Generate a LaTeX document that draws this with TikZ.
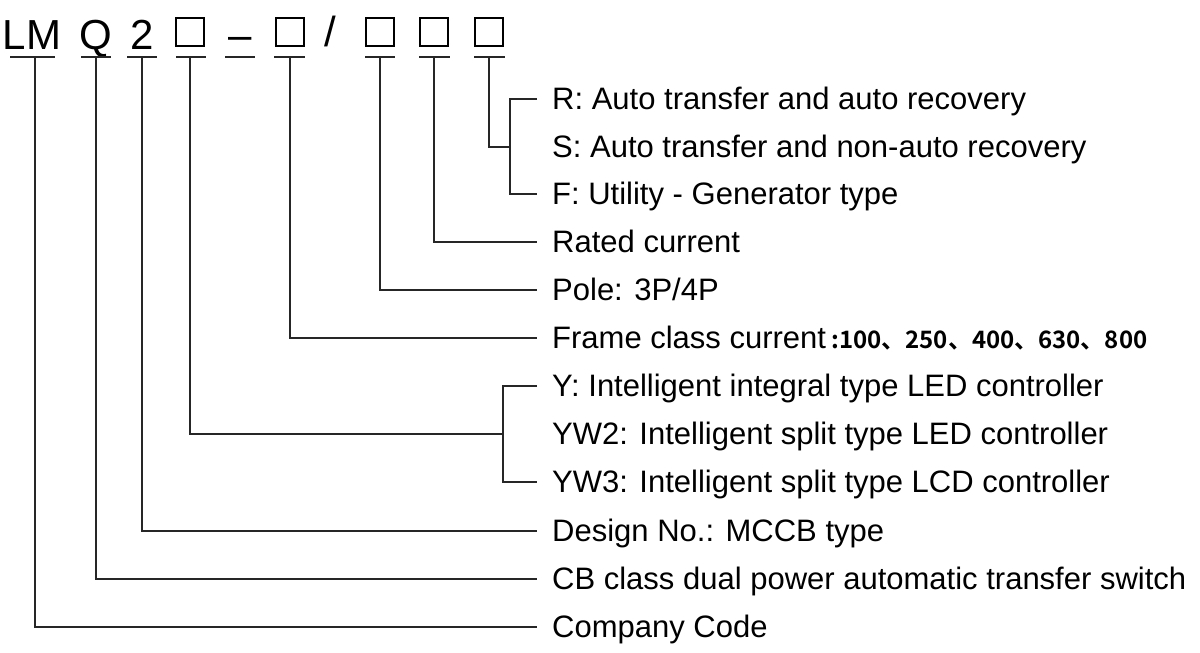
\documentclass[tikz,border=0pt]{standalone}
\usepackage{fontspec}
\setmainfont{Liberation Sans}
\newfontfamily\cjk{Noto Sans CJK SC}[BoldFont=* Bold]
\begin{document}
\begin{tikzpicture}[x=1pt,y=-1pt,
  ln/.style={line width=1.4pt,black!85},
  lbl/.style={anchor=base west,inner sep=0pt,font=\fontsize{31}{33}\selectfont},
  hd/.style={anchor=base,inner sep=0pt,font=\fontsize{42}{44}\selectfont},
  bx/.style={draw,line width=1.2pt,minimum width=28pt,minimum height=28pt,inner sep=0pt}]
\useasboundingbox (0,0) rectangle (1200,653);
% header
\node[hd] (hLM) at (32,49) {LM};
\node[hd] (hQ) at (96,49) {Q};
\node[hd] (h2) at (142,49) {2};
\node[bx] (b1) at (190,32) {};
\node[hd] (hd) at (240,49) {–};
\node[bx] (b2) at (290,32) {};
\node[hd] (hs) at (330,46) {/};
\node[bx] (b3) at (380,32) {};
\node[bx] (b4) at (434,32) {};
\node[bx] (b5) at (489,32) {};
% underlines
\foreach \a/\b in {10/55,81/111,127/157,176/206,225/255,274/305,365/395,419/450,474/505}
  \draw[ln] (\a,57) -- (\b,57);
% labels
\node[lbl] (R) at (552,109) {R: Auto transfer and auto recovery};
\node[lbl] (S) at (552,157) {S: Auto transfer and non-auto recovery};
\node[lbl] (F) at (552,204) {F: Utility - Generator type};
\node[lbl] (rc) at (552,252) {Rated current};
\node[lbl] (po) at (552,300) {Pole: 3P/4P};
\node[lbl] (fr) at (552,348) {Frame class current\,{\cjk\bfseries\fontsize{24}{26}\selectfont :100、250、400、630、800}};
\node[lbl] (Y) at (552,396) {Y: Intelligent integral type LED controller};
\node[lbl] (Y2) at (552,444) {YW2: Intelligent split type LED controller};
\node[lbl] (Y3) at (552,492) {YW3: Intelligent split type LCD controller};
\node[lbl] (de) at (552,541) {Design No.: MCCB type};
\node[lbl] (cb) at (552,589) {CB class dual power automatic transfer switch};
\node[lbl] (co) at (552,637) {Company Code};
% connectors
\coordinate (e5) at (510,147);
\draw[ln] (489,57) |- (e5);
\draw[ln] (537,99) -| (510,194) -- (537,194);
\draw[ln] (434,57) |- (537,242);
\draw[ln] (380,57) |- (537,290);
\draw[ln] (290,57) |- (537,338);
\draw[ln] (190,57) |- (503,434);
\draw[ln] (537,386) -| (503,482) -- (537,482);
\draw[ln] (142,57) |- (537,531);
\draw[ln] (96,57) |- (537,579);
\draw[ln] (35,57) |- (537,627);
\end{tikzpicture}
\end{document}
